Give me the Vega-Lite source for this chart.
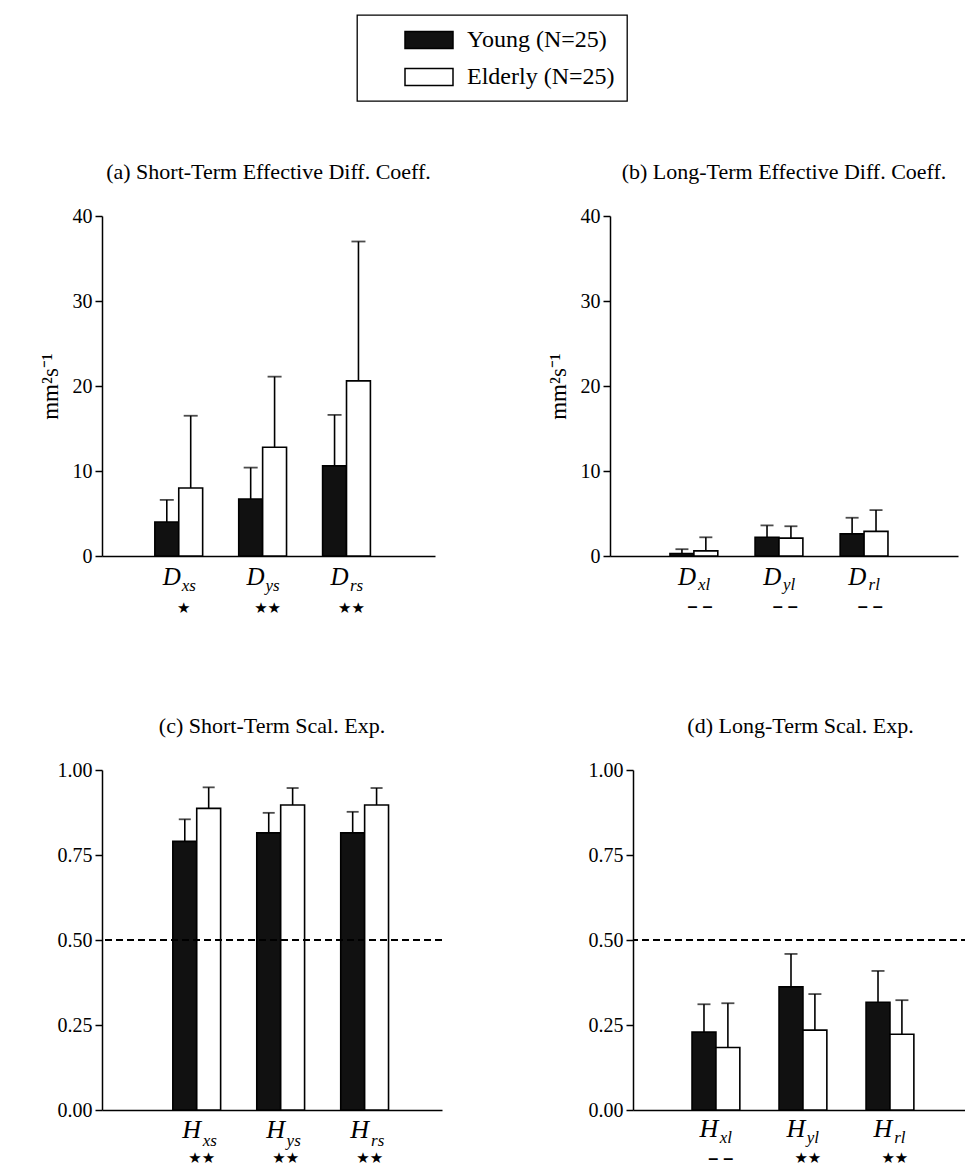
{
  "$schema": "https://vega.github.io/schema/vega-lite/v6.json",
  "padding": {"left": 39, "top": 14, "right": 0, "bottom": 0},
  "datasets": {
    "bars": [
      {"panel": "a", "measure": "xs", "group": "Young (N=25)", "mean": 4.0, "hi": 6.6},
      {"panel": "a", "measure": "xs", "group": "Elderly (N=25)", "mean": 8.0, "hi": 16.5},
      {"panel": "a", "measure": "ys", "group": "Young (N=25)", "mean": 6.7, "hi": 10.4},
      {"panel": "a", "measure": "ys", "group": "Elderly (N=25)", "mean": 12.8, "hi": 21.1},
      {"panel": "a", "measure": "rs", "group": "Young (N=25)", "mean": 10.6, "hi": 16.6},
      {"panel": "a", "measure": "rs", "group": "Elderly (N=25)", "mean": 20.6, "hi": 37.0},
      {"panel": "b", "measure": "xl", "group": "Young (N=25)", "mean": 0.3, "hi": 0.8},
      {"panel": "b", "measure": "xl", "group": "Elderly (N=25)", "mean": 0.6, "hi": 2.2},
      {"panel": "b", "measure": "yl", "group": "Young (N=25)", "mean": 2.2, "hi": 3.6},
      {"panel": "b", "measure": "yl", "group": "Elderly (N=25)", "mean": 2.1, "hi": 3.5},
      {"panel": "b", "measure": "rl", "group": "Young (N=25)", "mean": 2.6, "hi": 4.5},
      {"panel": "b", "measure": "rl", "group": "Elderly (N=25)", "mean": 2.9, "hi": 5.4},
      {"panel": "c", "measure": "xs", "group": "Young (N=25)", "mean": 0.79, "hi": 0.855},
      {"panel": "c", "measure": "xs", "group": "Elderly (N=25)", "mean": 0.887, "hi": 0.949},
      {"panel": "c", "measure": "ys", "group": "Young (N=25)", "mean": 0.815, "hi": 0.874},
      {"panel": "c", "measure": "ys", "group": "Elderly (N=25)", "mean": 0.897, "hi": 0.947},
      {"panel": "c", "measure": "rs", "group": "Young (N=25)", "mean": 0.815, "hi": 0.877},
      {"panel": "c", "measure": "rs", "group": "Elderly (N=25)", "mean": 0.897, "hi": 0.947},
      {"panel": "d", "measure": "xl", "group": "Young (N=25)", "mean": 0.229, "hi": 0.311},
      {"panel": "d", "measure": "xl", "group": "Elderly (N=25)", "mean": 0.184, "hi": 0.314},
      {"panel": "d", "measure": "yl", "group": "Young (N=25)", "mean": 0.362, "hi": 0.459},
      {"panel": "d", "measure": "yl", "group": "Elderly (N=25)", "mean": 0.235, "hi": 0.341},
      {"panel": "d", "measure": "rl", "group": "Young (N=25)", "mean": 0.317, "hi": 0.409},
      {"panel": "d", "measure": "rl", "group": "Elderly (N=25)", "mean": 0.223, "hi": 0.323}
    ],
    "labels": [
      {"panel": "a", "measure": "xs", "letter": "D", "sub": "xs", "sig": "★"},
      {"panel": "a", "measure": "ys", "letter": "D", "sub": "ys", "sig": "★★"},
      {"panel": "a", "measure": "rs", "letter": "D", "sub": "rs", "sig": "★★"},
      {"panel": "b", "measure": "xl", "letter": "D", "sub": "xl", "sig": "– –"},
      {"panel": "b", "measure": "yl", "letter": "D", "sub": "yl", "sig": "– –"},
      {"panel": "b", "measure": "rl", "letter": "D", "sub": "rl", "sig": "– –"},
      {"panel": "c", "measure": "xs", "letter": "H", "sub": "xs", "sig": "★★"},
      {"panel": "c", "measure": "ys", "letter": "H", "sub": "ys", "sig": "★★"},
      {"panel": "c", "measure": "rs", "letter": "H", "sub": "rs", "sig": "★★"},
      {"panel": "d", "measure": "xl", "letter": "H", "sub": "xl", "sig": "– –"},
      {"panel": "d", "measure": "yl", "letter": "H", "sub": "yl", "sig": "★★"},
      {"panel": "d", "measure": "rl", "letter": "H", "sub": "rl", "sig": "★★"}
    ]
  },
  "vconcat": [
    {
      "spacing": 112,
      "hconcat": [
        {
          "width": 333, "height": 340,
          "title": "(a)  Short-Term Effective Diff. Coeff.",
          "data": {"name": "bars"},
          "transform": [{"filter": "datum.panel === 'a'"}],
          "layer": [
            {"mark": {"type": "bar", "stroke": "black", "strokeWidth": 1.6},
             "encoding": {
               "x": {"field": "measure", "type": "nominal", "title": null, "scale": {"domain": ["xs", "ys", "rs"], "paddingInner": 0.43, "paddingOuter": 0.7, "align": 0.45}},
               "xOffset": {"field": "group", "type": "nominal", "scale": {"domain": ["Young (N=25)", "Elderly (N=25)"], "paddingInner": 0, "paddingOuter": 0}},
               "y": {"field": "mean", "type": "quantitative", "title": "mm²s⁻¹", "scale": {"domain": [0, 40]}, "axis": {"values": [0, 10, 20, 30, 40]}},
               "fill": {"field": "group", "type": "nominal", "title": null, "scale": {"domain": ["Young (N=25)", "Elderly (N=25)"], "range": ["#111111", "#ffffff"]},
                        "legend": {"symbolType": "M-2,-0.7H2V0.7H-2Z", "symbolSize": 576, "symbolStrokeColor": "black", "symbolStrokeWidth": 1.5}}
             }},
            {"mark": {"type": "rule", "color": "black", "strokeWidth": 1.6},
             "encoding": {
               "x": {"field": "measure", "type": "nominal", "title": null},
               "xOffset": {"field": "group", "type": "nominal"},
               "y": {"field": "mean", "type": "quantitative", "title": "mm²s⁻¹", "scale": {"domain": [0, 40]}},
               "y2": {"field": "hi"}
             }},
            {"mark": {"type": "tick", "color": "black", "thickness": 1.8, "size": 14},
             "encoding": {
               "x": {"field": "measure", "type": "nominal", "title": null},
               "xOffset": {"field": "group", "type": "nominal"},
               "y": {"field": "hi", "type": "quantitative", "title": "mm²s⁻¹", "scale": {"domain": [0, 40]}}
             }},
            {"data": {"name": "labels"}, "transform": [{"filter": "datum.panel === 'a'"}],
             "mark": {"type": "text", "font": "Liberation Serif", "fontStyle": "italic", "fontSize": 25, "dx": -7, "dy": 21, "baseline": "middle", "color": "black"},
             "encoding": {"x": {"field": "measure", "type": "nominal", "title": null}, "y": {"datum": 0}, "text": {"field": "letter"}}},
            {"data": {"name": "labels"}, "transform": [{"filter": "datum.panel === 'a'"}],
             "mark": {"type": "text", "font": "Liberation Serif", "fontStyle": "italic", "fontSize": 17, "dx": 10, "dy": 30, "baseline": "middle", "color": "black"},
             "encoding": {"x": {"field": "measure", "type": "nominal", "title": null}, "y": {"datum": 0}, "text": {"field": "sub"}}},
            {"data": {"name": "labels"}, "transform": [{"filter": "datum.panel === 'a'"}],
             "mark": {"type": "text", "font": "DejaVu Sans", "fontSize": 15, "dx": 5, "dy": 52, "baseline": "middle", "color": "black"},
             "encoding": {"x": {"field": "measure", "type": "nominal", "title": null}, "y": {"datum": 0}, "text": {"field": "sig"}}}
          ]
        },
        {
          "width": 348, "height": 340,
          "title": "(b)  Long-Term Effective Diff. Coeff.",
          "data": {"name": "bars"},
          "transform": [{"filter": "datum.panel === 'b'"}],
          "layer": [
            {"mark": {"type": "bar", "stroke": "black", "strokeWidth": 1.6},
             "encoding": {
               "x": {"field": "measure", "type": "nominal", "title": null, "scale": {"domain": ["xl", "yl", "rl"], "paddingInner": 0.41, "paddingOuter": 0.75, "align": 0.47}},
               "xOffset": {"field": "group", "type": "nominal", "scale": {"domain": ["Young (N=25)", "Elderly (N=25)"], "paddingInner": 0, "paddingOuter": 0}},
               "y": {"field": "mean", "type": "quantitative", "title": "mm²s⁻¹", "scale": {"domain": [0, 40]}, "axis": {"values": [0, 10, 20, 30, 40]}},
               "fill": {"field": "group", "type": "nominal", "title": null, "scale": {"domain": ["Young (N=25)", "Elderly (N=25)"], "range": ["#111111", "#ffffff"]},
                        "legend": {"symbolType": "M-2,-0.7H2V0.7H-2Z", "symbolSize": 576, "symbolStrokeColor": "black", "symbolStrokeWidth": 1.5}}
             }},
            {"mark": {"type": "rule", "color": "black", "strokeWidth": 1.6},
             "encoding": {
               "x": {"field": "measure", "type": "nominal", "title": null},
               "xOffset": {"field": "group", "type": "nominal"},
               "y": {"field": "mean", "type": "quantitative", "title": "mm²s⁻¹", "scale": {"domain": [0, 40]}},
               "y2": {"field": "hi"}
             }},
            {"mark": {"type": "tick", "color": "black", "thickness": 1.8, "size": 13},
             "encoding": {
               "x": {"field": "measure", "type": "nominal", "title": null},
               "xOffset": {"field": "group", "type": "nominal"},
               "y": {"field": "hi", "type": "quantitative", "title": "mm²s⁻¹", "scale": {"domain": [0, 40]}}
             }},
            {"data": {"name": "labels"}, "transform": [{"filter": "datum.panel === 'b'"}],
             "mark": {"type": "text", "font": "Liberation Serif", "fontStyle": "italic", "fontSize": 25, "dx": -8, "dy": 21, "baseline": "middle", "color": "black"},
             "encoding": {"x": {"field": "measure", "type": "nominal", "title": null}, "y": {"datum": 0}, "text": {"field": "letter"}}},
            {"data": {"name": "labels"}, "transform": [{"filter": "datum.panel === 'b'"}],
             "mark": {"type": "text", "font": "Liberation Serif", "fontStyle": "italic", "fontSize": 17, "dx": 9, "dy": 29, "baseline": "middle", "color": "black"},
             "encoding": {"x": {"field": "measure", "type": "nominal", "title": null}, "y": {"datum": 0}, "text": {"field": "sub"}}},
            {"data": {"name": "labels"}, "transform": [{"filter": "datum.panel === 'b'"}],
             "mark": {"type": "text", "font": "Liberation Sans", "fontWeight": "bold", "fontSize": 18, "dx": 5, "dy": 51, "baseline": "middle", "color": "black"},
             "encoding": {"x": {"field": "measure", "type": "nominal", "title": null}, "y": {"datum": 0}, "text": {"field": "sig"}}}
          ]
        }
      ]
    },
    {
      "spacing": 145,
      "hconcat": [
        {
          "width": 340, "height": 340,
          "title": "(c)  Short-Term Scal. Exp.",
          "data": {"name": "bars"},
          "transform": [{"filter": "datum.panel === 'c'"}],
          "layer": [
            {"mark": {"type": "bar", "stroke": "black", "strokeWidth": 1.6},
             "encoding": {
               "x": {"field": "measure", "type": "nominal", "title": null, "scale": {"domain": ["xs", "ys", "rs"], "paddingInner": 0.43, "paddingOuter": 0.74, "align": 0.57}},
               "xOffset": {"field": "group", "type": "nominal", "scale": {"domain": ["Young (N=25)", "Elderly (N=25)"], "paddingInner": 0, "paddingOuter": 0}},
               "y": {"field": "mean", "type": "quantitative", "title": null, "scale": {"domain": [0, 1]}, "axis": {"values": [0, 0.25, 0.5, 0.75, 1], "format": ".2f"}},
               "fill": {"field": "group", "type": "nominal", "title": null, "scale": {"domain": ["Young (N=25)", "Elderly (N=25)"], "range": ["#111111", "#ffffff"]},
                        "legend": {"symbolType": "M-2,-0.7H2V0.7H-2Z", "symbolSize": 576, "symbolStrokeColor": "black", "symbolStrokeWidth": 1.5}}
             }},
            {"mark": {"type": "rule", "color": "black", "strokeWidth": 1.6},
             "encoding": {
               "x": {"field": "measure", "type": "nominal", "title": null},
               "xOffset": {"field": "group", "type": "nominal"},
               "y": {"field": "mean", "type": "quantitative", "title": null, "scale": {"domain": [0, 1]}},
               "y2": {"field": "hi"}
             }},
            {"mark": {"type": "tick", "color": "black", "thickness": 1.8, "size": 12},
             "encoding": {
               "x": {"field": "measure", "type": "nominal", "title": null},
               "xOffset": {"field": "group", "type": "nominal"},
               "y": {"field": "hi", "type": "quantitative", "title": null, "scale": {"domain": [0, 1]}}
             }},
            {"mark": {"type": "rule", "color": "black", "strokeWidth": 1.3, "strokeDash": [7, 4]},
             "encoding": {"y": {"datum": 0.5}}},
            {"data": {"name": "labels"}, "transform": [{"filter": "datum.panel === 'c'"}],
             "mark": {"type": "text", "font": "Liberation Serif", "fontStyle": "italic", "fontSize": 26, "dx": -5, "dy": 20, "baseline": "middle", "color": "black"},
             "encoding": {"x": {"field": "measure", "type": "nominal", "title": null}, "y": {"datum": 0}, "text": {"field": "letter"}}},
            {"data": {"name": "labels"}, "transform": [{"filter": "datum.panel === 'c'"}],
             "mark": {"type": "text", "font": "Liberation Serif", "fontStyle": "italic", "fontSize": 17, "dx": 13, "dy": 31, "baseline": "middle", "color": "black"},
             "encoding": {"x": {"field": "measure", "type": "nominal", "title": null}, "y": {"datum": 0}, "text": {"field": "sub"}}},
            {"data": {"name": "labels"}, "transform": [{"filter": "datum.panel === 'c'"}],
             "mark": {"type": "text", "font": "DejaVu Sans", "fontSize": 15, "dx": 5, "dy": 48, "baseline": "middle", "color": "black"},
             "encoding": {"x": {"field": "measure", "type": "nominal", "title": null}, "y": {"datum": 0}, "text": {"field": "sig"}}}
          ]
        },
        {
          "width": 335, "height": 340,
          "title": "(d)  Long-Term Scal. Exp.",
          "data": {"name": "bars"},
          "transform": [{"filter": "datum.panel === 'd'"}],
          "layer": [
            {"mark": {"type": "bar", "stroke": "black", "strokeWidth": 1.6},
             "encoding": {
               "x": {"field": "measure", "type": "nominal", "title": null, "scale": {"domain": ["xl", "yl", "rl"], "paddingInner": 0.43, "paddingOuter": 0.64, "align": 0.53}},
               "xOffset": {"field": "group", "type": "nominal", "scale": {"domain": ["Young (N=25)", "Elderly (N=25)"], "paddingInner": 0, "paddingOuter": 0}},
               "y": {"field": "mean", "type": "quantitative", "title": null, "scale": {"domain": [0, 1]}, "axis": {"values": [0, 0.25, 0.5, 0.75, 1], "format": ".2f"}},
               "fill": {"field": "group", "type": "nominal", "title": null, "scale": {"domain": ["Young (N=25)", "Elderly (N=25)"], "range": ["#111111", "#ffffff"]},
                        "legend": {"symbolType": "M-2,-0.7H2V0.7H-2Z", "symbolSize": 576, "symbolStrokeColor": "black", "symbolStrokeWidth": 1.5}}
             }},
            {"mark": {"type": "rule", "color": "black", "strokeWidth": 1.6},
             "encoding": {
               "x": {"field": "measure", "type": "nominal", "title": null},
               "xOffset": {"field": "group", "type": "nominal"},
               "y": {"field": "mean", "type": "quantitative", "title": null, "scale": {"domain": [0, 1]}},
               "y2": {"field": "hi"}
             }},
            {"mark": {"type": "tick", "color": "black", "thickness": 1.8, "size": 13},
             "encoding": {
               "x": {"field": "measure", "type": "nominal", "title": null},
               "xOffset": {"field": "group", "type": "nominal"},
               "y": {"field": "hi", "type": "quantitative", "title": null, "scale": {"domain": [0, 1]}}
             }},
            {"mark": {"type": "rule", "color": "black", "strokeWidth": 1.3, "strokeDash": [7, 4]},
             "encoding": {"y": {"datum": 0.5}}},
            {"data": {"name": "labels"}, "transform": [{"filter": "datum.panel === 'd'"}],
             "mark": {"type": "text", "font": "Liberation Serif", "fontStyle": "italic", "fontSize": 26, "dx": -8, "dy": 19, "baseline": "middle", "color": "black"},
             "encoding": {"x": {"field": "measure", "type": "nominal", "title": null}, "y": {"datum": 0}, "text": {"field": "letter"}}},
            {"data": {"name": "labels"}, "transform": [{"filter": "datum.panel === 'd'"}],
             "mark": {"type": "text", "font": "Liberation Serif", "fontStyle": "italic", "fontSize": 17, "dx": 9, "dy": 28, "baseline": "middle", "color": "black"},
             "encoding": {"x": {"field": "measure", "type": "nominal", "title": null}, "y": {"datum": 0}, "text": {"field": "sub"}}},
            {"data": {"name": "labels"}, "transform": [{"filter": "datum.panel === 'd' && datum.sig !== '– –'"}],
             "mark": {"type": "text", "font": "DejaVu Sans", "fontSize": 15, "dx": 4, "dy": 48, "baseline": "middle", "color": "black"},
             "encoding": {"x": {"field": "measure", "type": "nominal", "title": null}, "y": {"datum": 0}, "text": {"field": "sig"}}},
            {"data": {"name": "labels"}, "transform": [{"filter": "datum.panel === 'd' && datum.sig === '– –'"}],
             "mark": {"type": "text", "font": "Liberation Sans", "fontWeight": "bold", "fontSize": 18, "dx": 4, "dy": 49, "baseline": "middle", "color": "black"},
             "encoding": {"x": {"field": "measure", "type": "nominal", "title": null}, "y": {"datum": 0}, "text": {"field": "sig"}}}
          ]
        }
      ]
    }
  ],
  "spacing": 99,
  "config": {
    "view": {"stroke": null},
    "font": "Liberation Serif",
    "axis": {
      "domainColor": "black", "domainWidth": 1.5,
      "tickColor": "black", "tickWidth": 1.5, "tickSize": 7,
      "labelColor": "black", "labelFont": "Liberation Serif", "labelFontSize": 20, "labelPadding": 3,
      "grid": false,
      "titleFont": "Liberation Serif", "titleFontSize": 23, "titleFontWeight": "normal", "titleColor": "black", "titlePadding": 10
    },
    "axisX": {"labels": false, "ticks": false},
    "title": {"font": "Liberation Serif", "fontSize": 22, "fontWeight": "normal", "color": "black", "anchor": "middle", "offset": 22},
    "legend": {
      "orient": "none", "legendX": 255, "legendY": -201,
      "strokeColor": "black", "strokeWidth": 1.3, "padding": 12,
      "labelFont": "Liberation Serif", "labelFontSize": 24, "labelColor": "black", "labelOffset": 25, "labelLimit": 300,
      "rowPadding": 12, "symbolOffset": 47
    }
  }
}
